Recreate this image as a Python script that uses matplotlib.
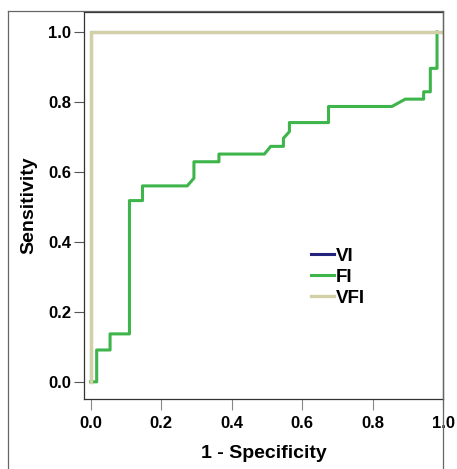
import numpy as np
import matplotlib.pyplot as plt
from matplotlib.lines import Line2D

# ROC 曲线数据
fpr_vi = [0.0, 0.0, 1.0]
tpr_vi = [0.0, 1.0, 1.0]

fpr_vfi = [0.0, 0.0, 1.0]
tpr_vfi = [0.0, 1.0, 1.0]

fpr_fi = [0.0, 0.017, 0.017, 0.055, 0.055, 0.11, 0.11, 0.147, 0.147, 0.274, 0.293, 0.293,
          0.364, 0.364, 0.493, 0.511, 0.547, 0.547, 0.564, 0.564, 0.675, 0.675, 0.855,
          0.893, 0.945, 0.945, 0.964, 0.964, 0.983, 0.983]
tpr_fi = [0.0, 0.0, 0.091, 0.091, 0.137, 0.137, 0.518, 0.518, 0.56, 0.56, 0.582, 0.629,
          0.629, 0.651, 0.651, 0.673, 0.673, 0.696, 0.715, 0.741, 0.741, 0.787, 0.787,
          0.808, 0.808, 0.829, 0.829, 0.896, 0.896, 1.0]

names = ['VI', 'FI', 'VFI']
colors = ['#23237e', '#3db54b', '#d3d0a8']
ticks = [0.0, 0.2, 0.4, 0.6, 0.8, 1.0]

plt.rcParams['font.family'] = ['Liberation Sans', 'DejaVu Sans']
plt.rcParams['font.weight'] = 'bold'

fig = plt.figure(figsize=(4.57, 4.69), dpi=100)
ax = fig.add_axes([0.1838, 0.1493, 0.9694 - 0.1838, 0.9744 - 0.1493])

ax.plot(fpr_vi, tpr_vi, color=colors[0], lw=2.2, label=names[0])
ax.plot(fpr_fi, tpr_fi, color=colors[1], lw=2.2, label=names[1])
ax.plot(fpr_vfi, tpr_vfi, color=colors[2], lw=2.4, label=names[2])

ax.set_xlim(-0.019, 1.0)
ax.set_ylim(-0.049, 1.057)
ax.set_xticks(ticks)
ax.set_yticks(ticks)
ax.set_xticklabels(['%.1f' % t for t in ticks], fontsize=12, fontweight='bold')
ax.set_yticklabels(['%.1f' % t for t in ticks], fontsize=12, fontweight='bold')
ax.tick_params(axis='x', length=8, width=0.8, color='#888888', pad=4)
ax.tick_params(axis='y', length=7, width=0.8, color='#555555', pad=2)
for s in ax.spines.values():
    s.set_linewidth(0.9)
    s.set_color('#333333')

ax.set_xlabel('1 - Specificity', fontsize=14, fontweight='bold', labelpad=10)
ax.set_ylabel('Sensitivity', fontsize=14, fontweight='bold', labelpad=8)

leg = ax.legend(loc='upper left', bbox_to_anchor=(0.612, 0.41), frameon=False,
                prop={'weight': 'bold', 'size': 13.5}, handlelength=1.2,
                handletextpad=0.12, labelspacing=0.2, borderaxespad=0)

# 外框
W, H = 457, 469
frame_kw = dict(color='#666666', lw=0.9, transform=fig.transFigure)
fig.add_artist(Line2D([8 / W, 8 / W], [0, 1 - 11 / H], **frame_kw))
fig.add_artist(Line2D([8 / W, 443 / W], [1 - 11 / H, 1 - 11 / H], **frame_kw))
fig.add_artist(Line2D([443 / W, 443 / W], [0, 1 - 11 / H], **frame_kw))

fig.savefig('out.png', dpi=100)
